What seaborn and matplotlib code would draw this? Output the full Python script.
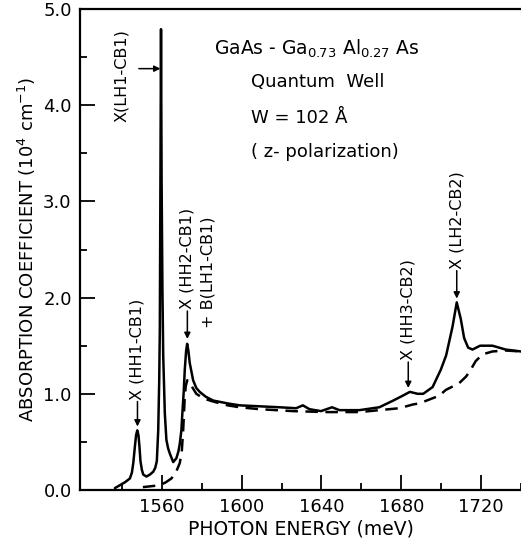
import numpy as np
import pandas as pd
import matplotlib
matplotlib.use("Agg")
import matplotlib.pyplot as plt
import seaborn as sns

# Photon energy (meV) and absorption coefficient (10^4 cm^-1)
solid_energy = [1536.5, 1539.0, 1541.5, 1544.0, 1545.0, 1545.7, 1546.5, 1547.1, 1547.7,
                1548.3, 1548.8, 1549.3, 1550.0, 1550.7, 1552.3, 1554.0, 1555.7, 1556.7,
                1557.5, 1558.2, 1558.7, 1559.0, 1559.3, 1559.6, 1559.9, 1560.3, 1560.7,
                1561.5, 1562.3, 1563.2, 1564.0, 1565.7, 1567.3, 1568.3, 1569.0, 1569.8,
                1570.3, 1571.0, 1571.5, 1572.2, 1572.7, 1573.3, 1574.0, 1575.7, 1577.3,
                1579.0, 1582.0, 1585.7, 1593.0, 1599.0, 1609.0, 1619.0, 1627.3,
                1630.7, 1634.0, 1639.8, 1645.3, 1649.0, 1659.0, 1669.0, 1676.0, 1680.7,
                1684.3, 1688.2, 1691.0, 1695.7, 1699.8, 1702.5, 1705.7, 1707.8, 1709.8,
                1711.5, 1713.5, 1715.7, 1719.5, 1725.7, 1732.3, 1740.0]
solid_alpha = [0.02, 0.05, 0.08, 0.12, 0.18, 0.28, 0.45, 0.57, 0.62,
               0.57, 0.45, 0.30, 0.21, 0.16, 0.14, 0.16, 0.19, 0.23,
               0.30, 0.62, 1.14, 1.66, 3.20, 4.79, 3.20, 2.10, 1.40,
               0.80, 0.52, 0.43, 0.38, 0.29, 0.33, 0.40, 0.48, 0.62,
               0.80, 1.03, 1.25, 1.45, 1.52, 1.45, 1.32, 1.14, 1.06,
               1.02, 0.97, 0.93, 0.90, 0.88, 0.87, 0.86, 0.85,
               0.88, 0.84, 0.82, 0.86, 0.83, 0.83, 0.86, 0.93, 0.98,
               1.02, 1.00, 1.00, 1.07, 1.25, 1.40, 1.70, 1.95, 1.78,
               1.58, 1.48, 1.46, 1.50, 1.50, 1.46, 1.44]

dashed_energy = [1550.5, 1555.0, 1559.0, 1562.0, 1564.8, 1567.0, 1569.0, 1570.0, 1570.7,
                 1571.5, 1572.0, 1572.7, 1573.3, 1574.0, 1575.5, 1577.3, 1581.0, 1585.7,
                 1593.0, 1599.0, 1609.0, 1625.7, 1642.3, 1659.0, 1669.0,
                 1679.0, 1686.0, 1689.0, 1699.0, 1702.3, 1709.0, 1712.5, 1714.5, 1717.3,
                 1720.7, 1725.7, 1732.3, 1740.0]
dashed_alpha = [0.03, 0.04, 0.05, 0.08, 0.12, 0.18, 0.28, 0.40, 0.62,
                0.97, 1.08, 1.14, 1.14, 1.12, 1.06, 1.00, 0.95, 0.92,
                0.88, 0.86, 0.84, 0.82, 0.81, 0.81, 0.83,
                0.85, 0.89, 0.90, 0.98, 1.04, 1.11, 1.18, 1.24, 1.34,
                1.41, 1.44, 1.45, 1.44]

x_major = [1560, 1600, 1640, 1680, 1720]
y_major = [0.0, 1.0, 2.0, 3.0, 4.0, 5.0]

df = pd.concat([
    pd.DataFrame({"energy": solid_energy, "alpha": solid_alpha, "pol": "solid"}),
    pd.DataFrame({"energy": dashed_energy, "alpha": dashed_alpha, "pol": "dashed"}),
])

sns.set_style("ticks", {"text.color": "black", "axes.labelcolor": "black",
                        "xtick.color": "black", "ytick.color": "black",
                        "axes.edgecolor": "black"})
plt.rcParams["font.family"] = ["DejaVu Sans"]

fig = plt.figure(figsize=(5.21, 5.40), dpi=100)
ax = fig.add_axes([80 / 521, 1 - 490 / 540, 1 - 80 / 521, (490 - 9) / 540])

sns.lineplot(data=df, x="energy", y="alpha", hue="pol", style="pol",
             palette={"solid": "black", "dashed": "black"},
             dashes={"solid": "", "dashed": (5, 3)},
             sort=False, estimator=None, linewidth=1.8, legend=False, ax=ax)

ax.set_xlim(1519, 1740)
ax.set_ylim(0, 5)
ax.set_xticks(x_major)
ax.set_xticklabels([str(v) for v in x_major])
ax.set_xticks([1540, 1580, 1620, 1660, 1700, 1740], minor=True)
ax.set_yticks(y_major)
ax.set_yticklabels([f"{v:.1f}" for v in y_major])
ax.set_yticks([0.5, 1.5, 2.5, 3.5, 4.5], minor=True)
ax.tick_params(which="major", direction="in", length=11, width=1.3, labelsize=13, pad=6)
ax.tick_params(which="minor", direction="in", length=5, width=1.3)
ax.tick_params(axis="x", top=False)
ax.tick_params(axis="y", right=False)
for s in ["left", "bottom", "top"]:
    ax.spines[s].set_linewidth(1.6)
ax.spines["right"].set_visible(False)

ax.set_xlabel("PHOTON ENERGY (meV)", fontsize=13.5, labelpad=2)
ax.set_ylabel("ABSORPTION COEFFICIENT (10$^4$ cm$^{-1}$)", fontsize=13, labelpad=4)

# Sample description block
ax.text(1586, 4.59, "GaAs - Ga$_{0.73}$ Al$_{0.27}$ As", fontsize=13.5, va="center")
ax.text(1604.5, 4.24, "Quantum  Well", fontsize=13, va="center")
ax.text(1604.5, 3.87, "W = 102 Å", fontsize=13, va="center")
ax.text(1604.5, 3.51, "( z- polarization)", fontsize=13, va="center")

# Peak labels (vertical text with arrows)
def vlabel(x, ytext_bottom, ypeak, text):
    ax.annotate("", xy=(x, ypeak + 0.04), xytext=(x, ytext_bottom),
                arrowprops=dict(arrowstyle="-|>", color="black", lw=1.1,
                                mutation_scale=9, shrinkA=0, shrinkB=0))
    ax.text(x, ytext_bottom + 0.02, text, rotation=90, ha="center", va="bottom",
            fontsize=11.5)

vlabel(1547.8, 0.92, 0.62, "X (HH1-CB1)")
vlabel(1572.8, 1.86, 1.53, "X (HH2-CB1)")
ax.text(1583.2, 1.68, "+ B(LH1-CB1)", rotation=90, ha="center", va="bottom", fontsize=11.5)
vlabel(1683.5, 1.33, 1.02, "X (HH3-CB2)")
vlabel(1707.8, 2.28, 1.95, "X (LH2-CB2)")

ax.text(1540, 4.31, "X(LH1-CB1)", rotation=90, ha="center", va="center", fontsize=11.5)
ax.annotate("", xy=(1559.3, 4.38), xytext=(1548.5, 4.38),
            arrowprops=dict(arrowstyle="-|>", color="black", lw=1.1,
                            mutation_scale=9, shrinkA=0, shrinkB=0))

fig.savefig("out.png", dpi=100)
